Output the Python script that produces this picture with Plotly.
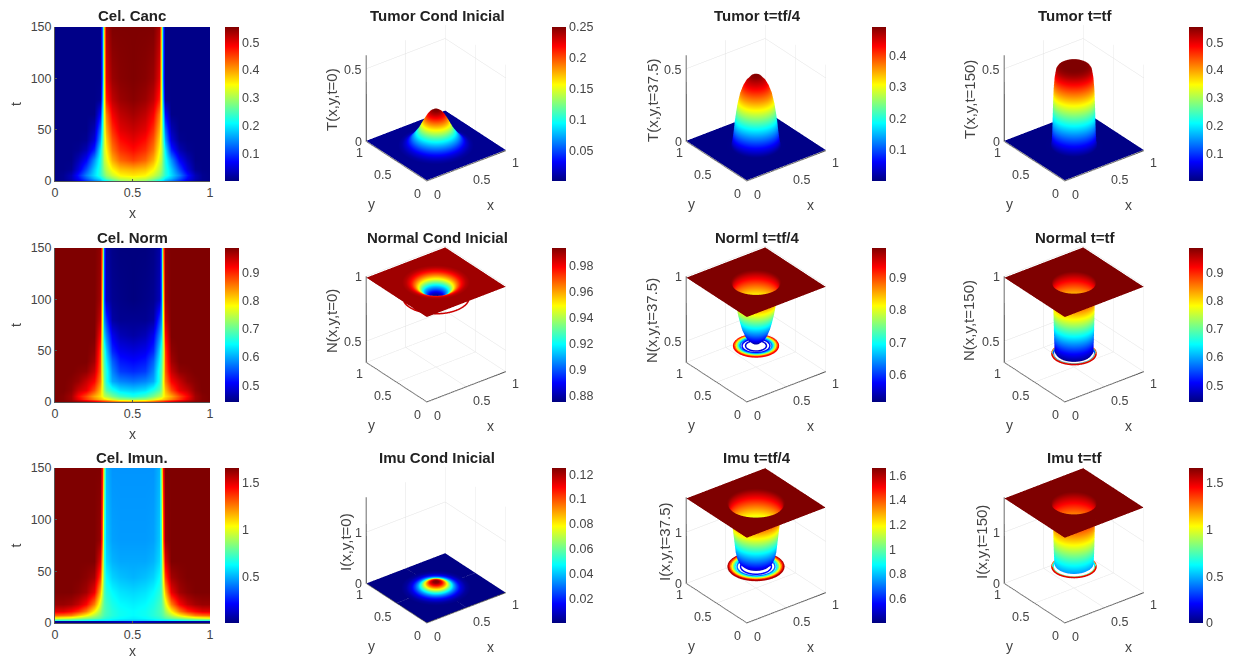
import numpy as np
import plotly.graph_objects as go

W, H = 1235, 659
JET = [[0, '#00007f'], [0.125, '#0000ff'], [0.375, '#00ffff'], [0.625, '#ffff00'], [0.875, '#ff0000'], [1, '#7f0000']]
FONT = 'Liberation Sans, Arial, sans-serif'
TICK = '#444444'

# ---- x-t maps (left half of x; mirrored about x=0.5) ----
x_half = [0, .05, .1, .15, .2, .25, .29, .305, .315, .33, .37, .42, .5]
t_grid = [0, 3, 6, 12, 20, 30, 40, 50, 65, 80, 100, 150]
t_grid_imu = [0, 2, 3, 5, 8, 12, 18, 30, 45, 60, 80, 150]

canc_map = [
    [.005, .008, .02, .05, .09, .13, .16, .18, .19, .20, .24, .28, .30],
    [.005, .01, .03, .07, .12, .17, .20, .22, .24, .26, .29, .32, .33],
    [.005, .01, .03, .08, .14, .19, .23, .25, .27, .29, .32, .35, .36],
    [.005, .005, .01, .05, .11, .18, .23, .26, .29, .31, .35, .38, .39],
    [.005, .005, .005, .03, .07, .15, .22, .26, .31, .33, .39, .43, .45],
    [.005, .005, .005, .01, .03, .09, .20, .26, .32, .35, .42, .46, .48],
    [.005, .005, .005, .005, .01, .05, .16, .24, .32, .37, .44, .48, .50],
    [.005, .005, .005, .005, .005, .03, .13, .22, .33, .39, .46, .50, .515],
    [.005, .005, .005, .005, .005, .005, .07, .19, .34, .42, .49, .52, .535],
    [.005, .005, .005, .005, .005, .005, .01, .15, .35, .47, .52, .54, .55],
    [.005, .005, .005, .005, .005, .005, .005, .12, .36, .50, .54, .55, .555],
    [.005, .005, .005, .005, .005, .005, .005, .12, .38, .53, .555, .555, .555],
]
norm_map = [
    [.99, .99, .99, .99, .985, .97, .95, .94, .935, .93, .91, .89, .875],
    [.99, .985, .97, .93, .89, .85, .82, .81, .80, .79, .76, .73, .72],
    [.99, .985, .97, .92, .88, .83, .80, .78, .75, .74, .71, .68, .66],
    [.99, .99, .98, .95, .93, .88, .82, .77, .72, .69, .66, .63, .62],
    [.99, .99, .985, .975, .95, .92, .85, .78, .70, .66, .60, .58, .57],
    [.99, .99, .99, .985, .98, .95, .87, .76, .69, .66, .58, .54, .53],
    [.99, .99, .99, .99, .99, .97, .88, .75, .68, .64, .56, .52, .51],
    [.99, .99, .99, .99, .99, .98, .89, .74, .67, .62, .53, .50, .49],
    [.99, .99, .99, .99, .99, .99, .92, .76, .62, .58, .50, .47, .46],
    [.99, .99, .99, .99, .99, .99, .95, .78, .58, .54, .46, .45, .45],
    [.99, .99, .99, .99, .99, .99, .97, .80, .55, .47, .45, .445, .44],
    [.99, .99, .99, .99, .99, .99, .98, .85, .55, .46, .445, .44, .44],
]
imu_map = [
    [.02, .02, .02, .02, .02, .03, .03, .04, .05, .05, .06, .07, .12],
    [.05, .05, .05, .05, .05, .05, .06, .06, .06, .07, .08, .09, .12],
    [.70, .70, .70, .68, .65, .62, .60, .60, .60, .60, .58, .56, .55],
    [1.0, .98, .95, .90, .85, .80, .75, .72, .70, .68, .65, .62, .60],
    [1.3, 1.28, 1.25, 1.15, 1.05, .92, .82, .78, .74, .72, .68, .64, .62],
    [1.5, 1.5, 1.45, 1.38, 1.25, 1.05, .88, .80, .76, .73, .68, .64, .62],
    [1.62, 1.62, 1.6, 1.55, 1.45, 1.25, .98, .85, .76, .72, .66, .62, .60],
    [1.66, 1.66, 1.66, 1.64, 1.6, 1.48, 1.15, .95, .75, .68, .62, .58, .56],
    [1.66, 1.66, 1.66, 1.66, 1.64, 1.6, 1.35, 1.05, .75, .62, .55, .52, .50],
    [1.66, 1.66, 1.66, 1.66, 1.66, 1.66, 1.5, 1.15, .70, .56, .50, .48, .48],
    [1.66, 1.66, 1.66, 1.66, 1.66, 1.66, 1.62, 1.3, .70, .53, .47, .46, .46],
    [1.66, 1.66, 1.66, 1.66, 1.66, 1.66, 1.66, 1.45, .85, .50, .45, .45, .45],
]

# ---- radial profiles of the surfaces ----
r_t0 = [0, .03, .06, .09, .12, .15, .18, .22, .26, .30, .34, .38, .45]
T0 = [.25, .248, .235, .212, .18, .145, .11, .075, .045, .022, .01, .005, .005]
r_t1 = [0, .05, .10, .13, .16, .185, .20, .215, .225, .235, .245, .255, .30, .45]
T1 = [.49, .48, .445, .41, .36, .29, .23, .16, .10, .05, .015, .006, .005, .005]
r_t2 = [0, .10, .14, .165, .18, .195, .205, .21, .215, .22, .225, .235, .30, .45]
T2 = [.555, .555, .55, .54, .525, .47, .39, .30, .18, .08, .03, .006, .005, .005]
r_n0 = [0, .03, .06, .09, .12, .15, .18, .21, .24, .27, .30, .34, .45]
N0 = [.875, .878, .885, .90, .915, .935, .952, .965, .975, .982, .987, .99, .99]
r_n1 = [0, .04, .08, .11, .14, .16, .18, .195, .21, .225, .24, .255, .30, .45]
N1 = [.517, .525, .55, .58, .63, .68, .74, .80, .87, .93, .98, .99, .99, .99]
r_n2 = [0, .10, .14, .165, .18, .195, .20, .205, .21, .215, .22, .23, .30, .45]
N2 = [.44, .44, .44, .44, .445, .46, .56, .72, .88, .96, .985, .99, .99, .99]
r_i0 = [0, .03, .06, .09, .12, .15, .18, .21, .25, .30, .35, .45]
I0 = [.125, .122, .11, .092, .072, .052, .036, .024, .012, .004, .001, .001]
r_i1 = [0, .04, .08, .11, .14, .17, .19, .205, .22, .235, .25, .265, .28, .295, .45]
I1 = [.42, .425, .435, .45, .47, .52, .60, .72, .95, 1.2, 1.4, 1.55, 1.64, 1.66, 1.66]
r_i2 = [0, .10, .14, .165, .18, .195, .20, .205, .21, .215, .22, .23, .30, .45]
I2 = [.45, .45, .45, .45, .45, .47, .58, .85, 1.25, 1.5, 1.62, 1.66, 1.66, 1.66]

# ---- base-plane contour rings: (radius, level) ----
rings_n0 = [(.335, .985)]
rings_n1 = [(.225, .93), (.213, .88), (.20, .82), (.187, .76), (.175, .70), (.16, .64), (.14, .58), (.105, .56)]
rings_n2 = [(.222, .94), (.218, .85), (.213, .70), (.208, .55)]
rings_i1 = [(.28, 1.6), (.268, 1.48), (.255, 1.33), (.24, 1.19), (.225, 1.03), (.21, .87), (.19, .70), (.155, .56)]
rings_i2 = [(.222, 1.5), (.218, 1.2), (.214, .9), (.21, .6)]
rings_t2 = [(.21, .06)]

titles = [
    ['Cel. Canc', 'Tumor Cond Inicial', 'Tumor t=tf/4', 'Tumor t=tf'],
    ['Cel. Norm', 'Normal Cond Inicial', 'Norml t=tf/4', 'Normal t=tf'],
    ['Cel. Imun.', 'Imu Cond Inicial', 'Imu t=tf/4', 'Imu t=tf'],
]
ztitles = [
    ['T(x,y,t=0)', 'T(x,y,t=37.5)', 'T(x,y,t=150)'],
    ['N(x,y,t=0)', 'N(x,y,t=37.5)', 'N(x,y,t=150)'],
    ['I(x,y,t=0)', 'I(x,y,t=37.5)', 'I(x,y,t=150)'],
]
z_ranges = [[0, .592], [.336, 1.0], [0, 1.68]]
z_ticks = [[0, .5], [.5, 1], [0, 1]]
xy_ticks = [0, .5, 1]
surfaces = [
    [(r_t0, T0, .0, .25, []), (r_t1, T1, .0, .49, []), (r_t2, T2, .0, .555, rings_t2)],
    [(r_n0, N0, .875, .994, rings_n0), (r_n1, N1, .517, .99, rings_n1), (r_n2, N2, .44, .989, rings_n2)],
    [(r_i0, I0, .0, .125, []), (r_i1, I1, .40, 1.66, rings_i1), (r_i2, I2, .0, 1.66, rings_i2)],
]
ring_z = [[0, 0, 0.005], [.875, .50, .44], [0, .42, .42]]
cbar_ticks = [
    [[.1, .2, .3, .4, .5], [.05, .1, .15, .2, .25], [.1, .2, .3, .4], [.1, .2, .3, .4, .5]],
    [[.5, .6, .7, .8, .9], [.88, .9, .92, .94, .96, .98], [.6, .7, .8, .9], [.5, .6, .7, .8, .9]],
    [[.5, 1, 1.5], [.02, .04, .06, .08, .1, .12], [.6, .8, 1, 1.2, 1.4, 1.6], [0, .5, 1, 1.5]],
]
cbar_text = [
    [['0.1', '0.2', '0.3', '0.4', '0.5'], ['0.05', '0.1', '0.15', '0.2', '0.25'], ['0.1', '0.2', '0.3', '0.4'], ['0.1', '0.2', '0.3', '0.4', '0.5']],
    [['0.5', '0.6', '0.7', '0.8', '0.9'], ['0.88', '0.9', '0.92', '0.94', '0.96', '0.98'], ['0.6', '0.7', '0.8', '0.9'], ['0.5', '0.6', '0.7', '0.8', '0.9']],
    [['0.5', '1', '1.5'], ['0.02', '0.04', '0.06', '0.08', '0.1', '0.12'], ['0.6', '0.8', '1', '1.2', '1.4', '1.6'], ['0', '0.5', '1', '1.5']],
]

# ---- pixel layout ----
row_top = [27, 248, 468]
row_bot = [181, 402, 623]
col_cx = [132, 436, 756, 1074]
cbar_x = [225, 552, 872, 1189]
ZT_DX = [[-96, -95, -96], [-96, -96, -97], [-82, -83, -84]]
SCENE_W, SCENE_H, EYE, ASPECT = 300, 196, 1.58, 1.015
X_SHIFT = [(11, -14), (15, -14), (10, -12)]
Y_SHIFT = [(-9, -13), (-14, -14), (-7, -12)]


def fmt(v):
    return '%g' % v


def fx(p):
    return p / W


def fy(p):
    return 1 - p / H


def cbar(row, col):
    return dict(x=fx(cbar_x[col]), xanchor='left', xref='paper', y=fy(row_bot[row]), yanchor='bottom', yref='paper',
                len=row_bot[row] - row_top[row], lenmode='pixels', thickness=14, thicknessmode='pixels',
                outlinewidth=0, ticks='', tickvals=cbar_ticks[row][col], ticktext=cbar_text[row][col],
                tickfont=dict(family=FONT, size=12.5, color=TICK), xpad=0, ypad=0, ticklabelposition='outside')


def mirror(rows):
    return [list(r) + list(r[-2::-1]) for r in rows]


def polar_surface(r, values):
    theta = np.radians(np.arange(0, 361, 3))
    c, s = np.cos(theta), np.sin(theta)
    edge = 0.5 / np.maximum(np.abs(c), np.abs(s))
    radii = np.concatenate([np.outer(r, np.ones_like(theta)), edge[None, :]])
    zz = np.outer(list(values) + [values[-1]], np.ones_like(theta))
    return 0.5 + radii * c, 0.5 + radii * s, zz


def scene_label(text, x, y, z, shift):
    return dict(text=text, x=x, y=y, z=z, xshift=shift[0], yshift=shift[1], showarrow=False, xanchor='center', yanchor='middle',
                font=dict(family=FONT, size=12.5, color=TICK))


fig = go.Figure()
x_full = x_half + [1 - v for v in x_half[-2::-1]]

# left column heat maps
maps = [(canc_map, t_grid, 0.0, .555), (norm_map, t_grid, .44, .989), (imu_map, t_grid_imu, .0, 1.66)]
for row, (m, tg, lo, hi) in enumerate(maps):
    n = '' if row == 0 else str(row + 1)
    fig.add_trace(go.Heatmap(x=x_full, y=tg, z=mirror(m), zsmooth='best', colorscale=JET, zmin=lo, zmax=hi,
                             xaxis='x' + n, yaxis='y' + n, colorbar=cbar(row, 0), hoverinfo='skip'))
    axis = dict(showgrid=False, zeroline=False, showline=True, linecolor='#555555', linewidth=1, ticks='inside', ticklen=2,
                tickcolor='#555555', tickfont=dict(family=FONT, size=12.5, color=TICK), mirror=False)
    fig.layout['xaxis' + n] = dict(axis, domain=[fx(55), fx(210)], range=[0, 1], anchor='y' + n, tickvals=[0, .5, 1],
                                   ticktext=['0', '0.5', '1'], title=dict(text='x', font=dict(family=FONT, size=14, color=TICK), standoff=9))
    fig.layout['yaxis' + n] = dict(axis, domain=[fy(row_bot[row]), fy(row_top[row])], range=[0, 150], anchor='x' + n,
                                   tickvals=[0, 50, 100, 150], title=dict(text='t', font=dict(family=FONT, size=14, color=TICK), standoff=5))

annotations = []
for row in range(3):
    for col in range(4):
        annotations.append(dict(text='<b>%s</b>' % titles[row][col], x=fx(col_cx[col] + (1 if col else 0)), y=fy(row_top[row] - 11),
                                xref='paper', yref='paper', showarrow=False, xanchor='center', yanchor='middle',
                                font=dict(family=FONT, size=15, color='#222222')))

# 3-D panels
for row in range(3):
    base_y = row_bot[row]
    cy = base_y - 78
    for c3 in range(3):
        col = c3 + 1
        r, v, lo, hi, rings = surfaces[row][c3]
        sid = 'scene%d' % (row * 3 + c3 + 1)
        sc = 'scene' if sid == 'scene1' else sid
        X, Y, Z = polar_surface(r, v)
        fig.add_trace(go.Surface(x=X, y=Y, z=Z, cmin=lo, cmax=hi, colorscale=JET, scene=sc, colorbar=cbar(row, col),
                                 hoverinfo='skip', lighting=dict(ambient=1, diffuse=0, specular=0, roughness=1, fresnel=0),
                                 contours=dict(x=dict(highlight=False), y=dict(highlight=False), z=dict(highlight=False))))
        th = np.radians(np.arange(0, 361, 4))
        for rad, level in rings:
            fig.add_trace(go.Scatter3d(x=.5 + rad * np.cos(th), y=.5 + rad * np.sin(th), z=[ring_z[row][c3]] * len(th), mode='lines',
                                       line=dict(width=3, color=[level] * len(th), colorscale=JET, cmin=lo, cmax=hi),
                                       scene=sc, showlegend=False, hoverinfo='skip'))
        cx = col_cx[col]
        ax = dict(showbackground=False, showgrid=True, gridcolor='#e2e2e2', gridwidth=1, zeroline=False, showline=True,
                  linecolor='#444444', linewidth=2, ticks='', showticklabels=False, showspikes=False, title=dict(text=''))
        zlo = z_ranges[row][0]
        labels = []
        for i, t in enumerate(xy_ticks):
            labels.append(scene_label(fmt(t), t, 0, zlo, X_SHIFT[i]))
            labels.append(scene_label(fmt(t), 0, t, zlo, Y_SHIFT[i]))
        for t in z_ticks[row]:
            labels.append(scene_label(fmt(t), 0, 1, t, (-8 if len(fmt(t)) == 1 else -14, -1)))
        fig.layout[sc] = dict(
            domain=dict(x=[fx(cx - SCENE_W / 2), fx(cx + SCENE_W / 2)], y=[fy(cy + SCENE_H / 2), fy(cy - SCENE_H / 2)]),
            aspectmode='manual', aspectratio=dict(x=ASPECT, y=ASPECT, z=ASPECT),
            camera=dict(projection=dict(type='orthographic'), eye=dict(x=-.527 * EYE, y=-.687 * EYE, z=.5 * EYE),
                        up=dict(x=0, y=0, z=1), center=dict(x=0, y=0, z=0)),
            xaxis=dict(ax, range=[0, 1], tickvals=xy_ticks),
            yaxis=dict(ax, range=[0, 1], tickvals=xy_ticks),
            zaxis=dict(ax, range=z_ranges[row], tickvals=z_ticks[row]),
            annotations=labels,
        )
        bx = cx - 9
        annotations.append(dict(text='x', x=fx(bx + 63), y=fy(base_y + 24), xref='paper', yref='paper', showarrow=False,
                                xanchor='center', yanchor='middle', font=dict(family=FONT, size=14, color=TICK)))
        annotations.append(dict(text='y', x=fx(bx - 56), y=fy(base_y + 23), xref='paper', yref='paper', showarrow=False,
                                xanchor='center', yanchor='middle', font=dict(family=FONT, size=14, color=TICK)))
        annotations.append(dict(text=ztitles[row][c3], x=fx(bx + ZT_DX[row][c3]), y=fy(base_y - 81), xref='paper', yref='paper',
                                showarrow=False, textangle=-90, xanchor='center', yanchor='middle',
                                font=dict(family=FONT, size=15, color=TICK)))

fig.update_layout(width=W, height=H, autosize=False, margin=dict(l=0, r=0, t=0, b=0, autoexpand=False), paper_bgcolor='white',
                  plot_bgcolor='white', showlegend=False, annotations=annotations, font=dict(family=FONT))
fig.write_html("out.html", config={'displayModeBar': False},
               post_script="document.body.style.margin='0';document.body.style.overflow='hidden';")
